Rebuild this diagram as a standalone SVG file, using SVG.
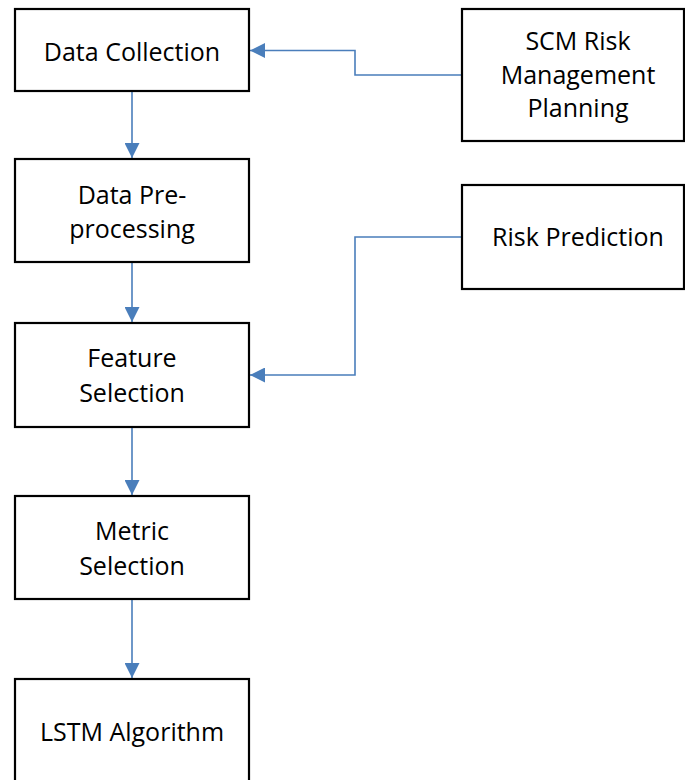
<svg xmlns="http://www.w3.org/2000/svg" width="685" height="780" viewBox="0 0 685 780">
<style>
  .box { fill: #ffffff; stroke: #000000; stroke-width: 2.2; }
  .lbl { font-family: "Open Sans", "Liberation Sans", sans-serif; font-size: 25px; fill: #000000; text-anchor: middle; }
  .conn { fill: none; stroke: #4a7ebb; stroke-width: 1.6; }
</style>
<defs>
  <marker id="arr" viewBox="0 0 10 10" refX="10" refY="5" markerWidth="15" markerHeight="15" markerUnits="userSpaceOnUse" orient="auto">
    <path d="M0,0 L10,5 L0,10 Z" fill="#4a7ebb"/>
  </marker>
</defs>
<rect width="685" height="780" fill="#ffffff"/>
<g id="connectors">
  <line class="conn" x1="132" y1="92" x2="132" y2="158" marker-end="url(#arr)"/>
  <line class="conn" x1="132" y1="263" x2="132" y2="322" marker-end="url(#arr)"/>
  <line class="conn" x1="132" y1="428" x2="132" y2="495" marker-end="url(#arr)"/>
  <line class="conn" x1="132" y1="600" x2="132" y2="678" marker-end="url(#arr)"/>
  <polyline class="conn" points="461,75 355,75 355,50.5 250,50.5" marker-end="url(#arr)"/>
  <polyline class="conn" points="461,237 355,237 355,375 250,375" marker-end="url(#arr)"/>
</g>
<g id="data-collection">
  <rect class="box" x="15" y="9" width="234" height="82"/>
  <text class="lbl" x="132" y="61">Data Collection</text>
</g>
<g id="data-preprocessing">
  <rect class="box" x="15" y="159" width="234" height="103"/>
  <text class="lbl" x="132" y="204">Data Pre-</text>
  <text class="lbl" x="132" y="238">processing</text>
</g>
<g id="feature-selection">
  <rect class="box" x="15" y="323" width="234" height="104"/>
  <text class="lbl" x="132" y="367">Feature</text>
  <text class="lbl" x="132" y="402">Selection</text>
</g>
<g id="metric-selection">
  <rect class="box" x="15" y="496" width="234" height="103"/>
  <text class="lbl" x="132" y="540">Metric</text>
  <text class="lbl" x="132" y="575">Selection</text>
</g>
<g id="lstm-algorithm">
  <rect class="box" x="15" y="679" width="234" height="120"/>
  <text class="lbl" x="132" y="741">LSTM Algorithm</text>
</g>
<g id="scm-risk">
  <rect class="box" x="462" y="9" width="222" height="132"/>
  <text class="lbl" x="578" y="50">SCM Risk</text>
  <text class="lbl" x="578" y="84">Management</text>
  <text class="lbl" x="578" y="117">Planning</text>
</g>
<g id="risk-prediction">
  <rect class="box" x="462" y="185" width="222" height="104"/>
  <text class="lbl" x="578" y="246">Risk Prediction</text>
</g>
</svg>
